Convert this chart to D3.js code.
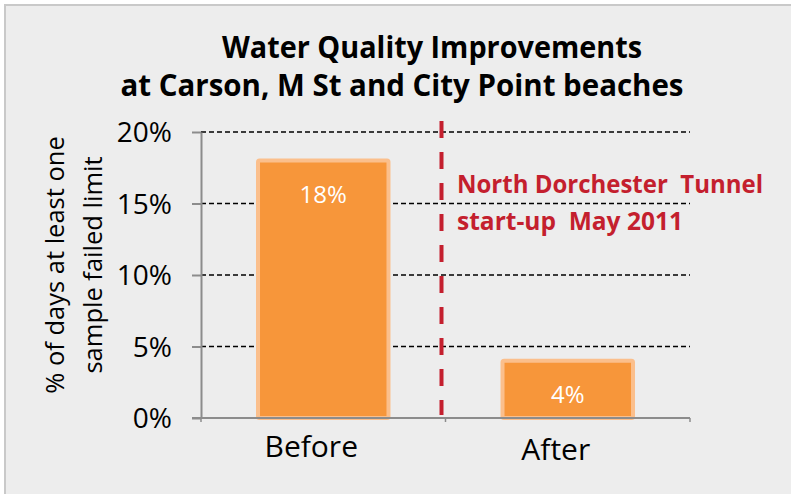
<!DOCTYPE html>
<html>
<head>
<meta charset="utf-8">
<script src="https://cdn.jsdelivr.net/npm/d3@7"></script>
<style>
  body { margin: 0; background: #fff; }
  svg { display: block; font-family: 'Open Sans', sans-serif; }
  text { white-space: pre; }
</style>
</head>
<body>
<svg id="chart" width="791" height="494"></svg>
<script>
// chart data
const categories = ['Before', 'After']
const values = [18, 4]
const yTicks = [0, 5, 10, 15, 20]
const titleLines = ['Water Quality Improvements', 'at Carson, M St and City Point beaches']
const yTitleLines = ['% of days at least one', 'sample failed limit']
const noteLines = ['North Dorchester  Tunnel', 'start-up  May 2011']

const svg = d3.select('#chart')

// panel background
svg.append('rect')
    .attr('x', 5).attr('y', 5)
    .attr('width', 800).attr('height', 500)
    .attr('fill', '#ededed')
    .attr('stroke', '#c9c9c9')
    .attr('stroke-width', 2)

const plot = {left: 201, right: 690, top: 132, bottom: 418}

let x = d3.scaleBand()
    .domain(categories)
    .range([plot.left, plot.right])
    .paddingInner(0.45)
    .paddingOuter(0.225)

let y = d3.scaleLinear()
    .domain([0, 20])
    .range([plot.bottom, plot.top])

// title
svg.selectAll('text.title')
    .data(titleLines)
    .join('text')
    .attr('class', 'title')
    .attr('x', (d, i) => i == 0 ? 432 : 402)
    .attr('y', (d, i) => 58 + i * 38)
    .attr('text-anchor', 'middle')
    .attr('textLength', (d, i) => i == 0 ? 420 : 563)
    .attr('lengthAdjust', 'spacingAndGlyphs')
    .attr('font-size', 30)
    .attr('font-weight', 'bold')
    .attr('fill', '#000')
    .text(d => d)

// gridlines
svg.selectAll('line.grid')
    .data(yTicks.filter(d => d > 0))
    .join('line')
    .attr('class', 'grid')
    .attr('x1', plot.left).attr('x2', plot.right)
    .attr('y1', d => y(d)).attr('y2', d => y(d))
    .attr('stroke', '#000')
    .attr('stroke-width', 1.5)
    .attr('stroke-dasharray', '5,3')

// bars
svg.selectAll('rect.bar')
    .data(values)
    .join('rect')
    .attr('class', 'bar')
    .attr('x', (d, i) => x(categories[i]) + 2)
    .attr('y', d => y(d))
    .attr('width', x.bandwidth() - 4)
    .attr('height', d => y(0) - y(d))
    .attr('rx', 1.5)
    .attr('fill', '#f7963a')
    .attr('stroke', '#fbbf8c')
    .attr('stroke-width', 4)

svg.selectAll('text.value')
    .data(values)
    .join('text')
    .attr('class', 'value')
    .attr('x', (d, i) => x(categories[i]) + x.bandwidth() / 2)
    .attr('y', d => y(d) + 42)
    .attr('text-anchor', 'middle')
    .attr('font-size', 24)
    .attr('fill', '#fff')
    .text(d => d + '%')

// y axis
let yAxis = svg.append('g')
    .attr('transform', `translate(${plot.left},0)`)
    .call(d3.axisLeft(y)
        .tickValues(yTicks)
        .tickFormat(d => d + '%')
        .tickSize(9)
        .tickSizeOuter(0)
        .tickPadding(20))

yAxis.select('.domain').attr('stroke', '#8c8c8c').attr('stroke-width', 2)
yAxis.selectAll('.tick line').attr('stroke', '#8c8c8c').attr('stroke-width', 2)
yAxis.selectAll('.tick text')
    .attr('font-size', 28)
    .attr('font-family', "'Open Sans', sans-serif")
    .attr('fill', '#000')
    .attr('dy', '0.35em')

// x axis
let step = x.step()
let bounds = [plot.left, x(categories[1]) - step * x.paddingInner() / 2, plot.right]

svg.append('line')
    .attr('x1', plot.left - 9).attr('x2', plot.right)
    .attr('y1', plot.bottom).attr('y2', plot.bottom)
    .attr('stroke', '#8c8c8c')
    .attr('stroke-width', 2)

svg.selectAll('line.xtick')
    .data(bounds)
    .join('line')
    .attr('class', 'xtick')
    .attr('x1', d => d).attr('x2', d => d)
    .attr('y1', plot.bottom).attr('y2', plot.bottom + 4)
    .attr('stroke', '#8c8c8c')
    .attr('stroke-width', 1.5)

svg.selectAll('text.cat')
    .data(categories)
    .join('text')
    .attr('class', 'cat')
    .attr('x', d => x(d) + x.bandwidth() / 2 - 12)
    .attr('y', (d, i) => 457 + i * 3)
    .attr('text-anchor', 'middle')
    .attr('font-size', 30)
    .attr('fill', '#000')
    .text(d => d)

// y title
svg.selectAll('text.ytitle')
    .data(yTitleLines)
    .join('text')
    .attr('class', 'ytitle')
    .attr('transform', (d, i) => `translate(${64 + i * 38},265) rotate(-90)`)
    .attr('text-anchor', 'middle')
    .attr('font-size', 25.5)
    .attr('fill', '#000')
    .text(d => d)

// tunnel start-up marker
let markX = bounds[1] - 4
svg.append('line')
    .attr('x1', markX).attr('x2', markX)
    .attr('y1', 121).attr('y2', 415)
    .attr('stroke', '#c41f2e')
    .attr('stroke-width', 4)
    .attr('stroke-dasharray', '17,14')

svg.selectAll('text.note')
    .data(noteLines)
    .join('text')
    .attr('class', 'note')
    .attr('x', 457)
    .attr('y', (d, i) => 193 + i * 37)
    .attr('textLength', (d, i) => i == 0 ? 306 : 226)
    .attr('lengthAdjust', 'spacingAndGlyphs')
    .attr('font-size', 24.5)
    .attr('font-weight', 'bold')
    .attr('fill', '#c41f2e')
    .text(d => d)
</script>
</body>
</html>
